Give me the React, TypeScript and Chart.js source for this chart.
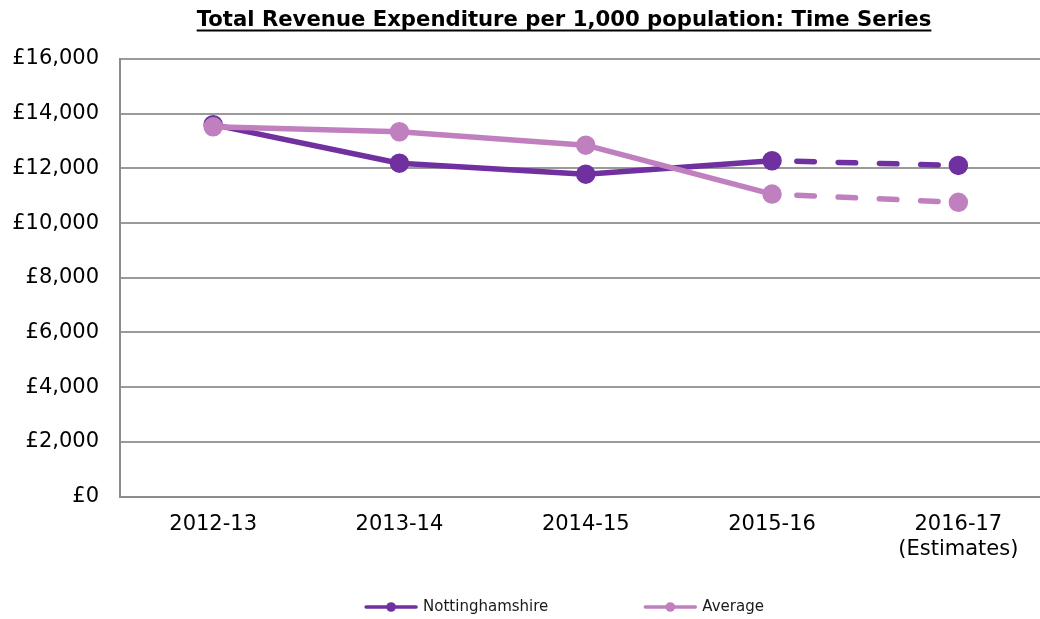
import React, { useEffect, useRef } from 'react';
import { Chart, registerables } from 'chart.js';

Chart.register(...registerables);

const titleText = 'Total Revenue Expenditure per 1,000 population: Time Series';
const categories: (string | string[])[] = ['2012-13', '2013-14', '2014-15', '2015-16', ['2016-17', '(Estimates)']];
const nottinghamshire = [13600, 12190, 11790, 12280, 12110];
const average = [13520, 13340, 12850, 11060, 10760];
const yTickValues = [0, 2000, 4000, 6000, 8000, 10000, 12000, 14000, 16000];
const seriesNames = ['Nottinghamshire', 'Average'];
const seriesColors = ['#7030A0', '#C080C0'];
const estimateFromIndex = 3;

const FONT = '"DejaVu Sans", Verdana, sans-serif';

const underlinePlugin = {
  id: 'titleUnderline',
  afterDraw(chart: any) {
    const ctx = chart.ctx;
    ctx.save();
    ctx.font = `bold 21.2px ${FONT}`;
    const w = ctx.measureText(titleText).width;
    const x0 = chart.width / 2 - w / 2;
    ctx.fillStyle = '#000';
    ctx.fillRect(x0, 29.5, w, 2);
    ctx.restore();
  },
};

const legendPlugin = {
  id: 'lineLegend',
  afterDraw(chart: any) {
    const ctx = chart.ctx;
    ctx.save();
    ctx.font = `15px ${FONT}`;
    const markerW = 54;
    const textGap = 5;
    const itemGap = 95;
    const widths = seriesNames.map((n) => ctx.measureText(n).width);
    const total = widths.reduce((a, w) => a + markerW + textGap + w, 0) + itemGap * (seriesNames.length - 1);
    let x = chart.width / 2 - total / 2;
    const y = 607;
    seriesNames.forEach((name, i) => {
      ctx.strokeStyle = seriesColors[i];
      ctx.fillStyle = seriesColors[i];
      ctx.lineWidth = 3.5;
      ctx.lineCap = 'round';
      ctx.beginPath();
      ctx.moveTo(x + 2, y);
      ctx.lineTo(x + markerW - 2, y);
      ctx.stroke();
      ctx.beginPath();
      ctx.arc(x + markerW / 2, y, 4.8, 0, Math.PI * 2);
      ctx.fill();
      ctx.fillStyle = '#1a1a1a';
      ctx.textAlign = 'left';
      ctx.textBaseline = 'middle';
      ctx.fillText(name, x + markerW + textGap, y);
      x += markerW + textGap + widths[i] + itemGap;
    });
    ctx.restore();
  },
};

function dashed(ctx: any) {
  return ctx.p0DataIndex >= estimateFromIndex ? [17.5, 23.8] : undefined;
}
function dashOffset(ctx: any) {
  return ctx.p0DataIndex >= estimateFromIndex ? 16.5 : undefined;
}

export default function App() {
  const ref = useRef<HTMLCanvasElement | null>(null);

  useEffect(() => {
    if (!ref.current) return;
    const seriesData = [nottinghamshire, average];
    const chart = new Chart(ref.current, {
      type: 'line',
      data: {
        labels: categories as any,
        datasets: seriesNames.map((name, i) => ({
          label: name,
          data: seriesData[i],
          borderColor: seriesColors[i],
          backgroundColor: seriesColors[i],
          pointBackgroundColor: seriesColors[i],
          pointBorderColor: seriesColors[i],
          borderWidth: 5.5,
          pointRadius: 9,
          pointBorderWidth: 1.5,
          pointHoverRadius: 9,
          borderCapStyle: 'round',
          borderJoinStyle: 'round',
          tension: 0,
          fill: false,
          order: i === 0 ? 2 : 1,
          segment: { borderDash: dashed, borderDashOffset: dashOffset },
        })) as any,
      },
      options: {
        animation: false,
        responsive: false,
        devicePixelRatio: 1,
        layout: { padding: 0 },
        plugins: {
          legend: { display: false },
          tooltip: { enabled: false },
          title: {
            display: true,
            text: titleText,
            color: '#000',
            font: { family: FONT, size: 21.2, weight: 'bold' },
            padding: { top: 8, bottom: 25.6 },
          },
        },
        scales: {
          x: {
            type: 'category',
            offset: true,
            grid: { display: false, drawTicks: false },
            border: { display: true, color: '#8c8c8c', width: 2 },
            ticks: {
              color: '#000',
              font: { family: FONT, size: 21 },
              padding: 15,
              maxRotation: 0,
              autoSkip: false,
            },
            afterFit: (s: any) => {
              s.height = 122.5;
            },
          },
          y: {
            type: 'linear',
            position: 'left',
            min: 0,
            max: 16000,
            afterBuildTicks: (s: any) => {
              s.ticks = yTickValues.map((v) => ({ value: v }));
            },
            grid: { color: '#9a9a9a', lineWidth: 2, drawTicks: false },
            border: { display: true, color: '#8c8c8c', width: 2 },
            ticks: {
              color: '#000',
              font: { family: FONT, size: 21 },
              padding: 21,
              callback: (v: any) => '£' + Number(v).toLocaleString('en-GB'),
            },
            afterFit: (s: any) => {
              s.width = 120;
            },
          },
          yRightSpace: {
            type: 'linear',
            position: 'right',
            display: true,
            grid: { display: false, drawTicks: false },
            border: { display: false },
            ticks: { display: false },
            afterFit: (s: any) => {
              s.width = 76.5;
            },
          },
        },
      },
      plugins: [underlinePlugin, legendPlugin],
    });
    return () => chart.destroy();
  }, []);

  return (
    <div
      style={{
        position: 'fixed',
        left: 0,
        top: 0,
        width: 1040,
        height: 619,
        overflow: 'hidden',
        background: '#fff',
      }}
    >
      <canvas ref={ref} width={1128} height={619} style={{ display: 'block', width: 1128, height: 619 }} />
    </div>
  );
}
